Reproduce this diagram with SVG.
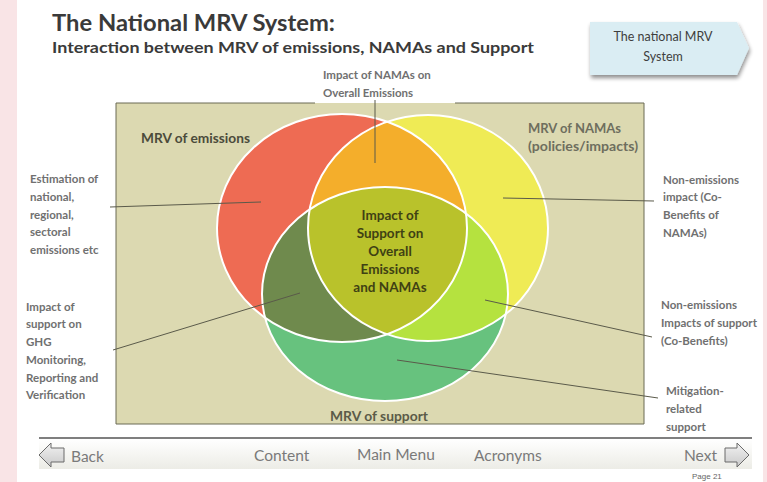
<svg xmlns="http://www.w3.org/2000/svg" width="767" height="482" viewBox="0 0 767 482">
<style>
.lbl{font-family:Lato,"Liberation Sans",sans-serif;font-weight:700;font-size:11.5px;fill:#707070}
.reg{font-family:Lato,"Liberation Sans",sans-serif;font-weight:700;font-size:13px}
.ctr{font-family:Lato,"Liberation Sans",sans-serif;font-weight:700;font-size:13.5px;fill:#3f4114;text-anchor:middle}
.nav{font-family:Lato,"Liberation Sans",sans-serif;font-size:15.5px;fill:#7a7a7a}
.lead{stroke:#5a5a4a;stroke-width:1;fill:none}
.edge{fill:none;stroke:#fff;stroke-width:2}
.navarrow{fill:url(#ag);stroke:#6a6a6a;stroke-width:1}
</style>
<defs>
<clipPath id="cA"><ellipse cx="342" cy="228" rx="125" ry="114"/></clipPath>
<clipPath id="cB"><ellipse cx="428" cy="228" rx="120" ry="113"/></clipPath>
<linearGradient id="fg" x1="0" y1="0" x2="0" y2="1"><stop offset="0" stop-color="#ffffff"/><stop offset="1" stop-color="#ecece6"/></linearGradient>
<linearGradient id="ag" x1="0" y1="0" x2="0" y2="1"><stop offset="0" stop-color="#f2f2f2"/><stop offset="1" stop-color="#c9c9c9"/></linearGradient>
<filter id="sh" x="-10%" y="-20%" width="130%" height="160%"><feGaussianBlur in="SourceAlpha" stdDeviation="2"/><feOffset dx="1" dy="3"/><feComponentTransfer><feFuncA type="linear" slope="0.45"/></feComponentTransfer><feMerge><feMergeNode/><feMergeNode in="SourceGraphic"/></feMerge></filter>
</defs>

<rect x="0" y="0" width="767" height="482" fill="#f9e4e6"/>
<rect x="17" y="0" width="746" height="482" fill="#ffffff"/>

<g id="title">
<text x="52" y="31" font-family="Lato,'Liberation Sans',sans-serif" font-weight="700" font-size="22" fill="#3a3a3a" textLength="283" lengthAdjust="spacingAndGlyphs">The National MRV System:</text>
<text x="52" y="53" font-family="Lato,'Liberation Sans',sans-serif" font-weight="700" font-size="16" fill="#3a3a3a" textLength="482" lengthAdjust="spacingAndGlyphs">Interaction between MRV of emissions, NAMAs and Support</text>
</g>

<g id="nav-tab">
<polygon points="590,22 737,22 749,48 737,75 590,75" fill="#daedf3" filter="url(#sh)"/>
<text x="663" y="41" font-family="Lato,'Liberation Sans',sans-serif" font-size="12.5" fill="#3e3e3e" text-anchor="middle">The national MRV</text>
<text x="663" y="61" font-family="Lato,'Liberation Sans',sans-serif" font-size="12.5" fill="#3e3e3e" text-anchor="middle">System</text>
</g>

<g id="frame">
<rect x="116" y="103" width="528" height="321" fill="#dcd9b1"/>
<path d="M315,103 H116 V424 H644 V103 H455" fill="none" stroke="#6b6b55" stroke-width="1"/>
</g>

<g id="venn">
<ellipse cx="342" cy="228" rx="125" ry="114" fill="#ee6b53"/>
<ellipse cx="428" cy="228" rx="120" ry="113" fill="#efeb55"/>
<ellipse cx="385" cy="294" rx="123" ry="107" fill="#67c27e"/>
<ellipse cx="428" cy="228" rx="120" ry="113" fill="#f4ae2b" clip-path="url(#cA)"/>
<ellipse cx="385" cy="294" rx="123" ry="107" fill="#6f8a4d" clip-path="url(#cA)"/>
<ellipse cx="385" cy="294" rx="123" ry="107" fill="#b5e23f" clip-path="url(#cB)"/>
<g clip-path="url(#cA)"><ellipse cx="385" cy="294" rx="123" ry="107" fill="#b9c22b" clip-path="url(#cB)"/></g>
<ellipse class="edge" cx="342" cy="228" rx="125" ry="114"/>
<ellipse class="edge" cx="428" cy="228" rx="120" ry="113"/>
<ellipse class="edge" cx="385" cy="294" rx="123" ry="107"/>
</g>

<g id="connectors">
<line class="lead" x1="375" y1="100" x2="375" y2="163"/>
<line class="lead" x1="110" y1="207" x2="261" y2="202"/>
<line class="lead" x1="113" y1="350" x2="300" y2="293"/>
<line class="lead" x1="503" y1="198" x2="654" y2="201"/>
<line class="lead" x1="485" y1="300" x2="652" y2="337"/>
<line class="lead" x1="397" y1="360" x2="658" y2="398"/>
</g>

<g id="region-labels">
<text class="reg" x="141" y="143" fill="#4b4b3b" textLength="109" lengthAdjust="spacingAndGlyphs">MRV of emissions</text>
<text class="reg" x="528" y="133" fill="#6e6e5e">MRV of NAMAs</text>
<text class="reg" x="528" y="151" fill="#6e6e5e" textLength="110" lengthAdjust="spacingAndGlyphs">(policies/impacts)</text>
<text class="reg" x="330" y="421" fill="#5b5b48" textLength="98" lengthAdjust="spacingAndGlyphs">MRV of support</text>
</g>

<g id="center-label">
<text class="ctr" x="390" y="220">Impact of</text>
<text class="ctr" x="390" y="238">Support on</text>
<text class="ctr" x="390" y="256">Overall</text>
<text class="ctr" x="390" y="274">Emissions</text>
<text class="ctr" x="390" y="292">and NAMAs</text>
</g>

<g id="label-top">
<text class="lbl" x="323" y="79">Impact of NAMAs on</text>
<text class="lbl" x="323" y="97">Overall Emissions</text>
</g>

<g id="label-estimation">
<text class="lbl" x="30" y="183">Estimation of</text>
<text class="lbl" x="30" y="201">national,</text>
<text class="lbl" x="30" y="219">regional,</text>
<text class="lbl" x="30" y="236">sectoral</text>
<text class="lbl" x="30" y="254">emissions etc</text>
</g>

<g id="label-ghg">
<text class="lbl" x="26" y="311">Impact of</text>
<text class="lbl" x="26" y="328">support on</text>
<text class="lbl" x="26" y="346">GHG</text>
<text class="lbl" x="26" y="364">Monitoring,</text>
<text class="lbl" x="26" y="382">Reporting and</text>
<text class="lbl" x="26" y="399">Verification</text>
</g>

<g id="label-nonem-namas">
<text class="lbl" x="663" y="184">Non-emissions</text>
<text class="lbl" x="663" y="201">impact (Co-</text>
<text class="lbl" x="663" y="219">Benefits of</text>
<text class="lbl" x="663" y="237">NAMAs)</text>
</g>

<g id="label-nonem-support">
<text class="lbl" x="661" y="309">Non-emissions</text>
<text class="lbl" x="661" y="327">Impacts of support</text>
<text class="lbl" x="661" y="345">(Co-Benefits)</text>
</g>

<g id="label-mitigation">
<text class="lbl" x="666" y="395">Mitigation-</text>
<text class="lbl" x="666" y="413">related</text>
<text class="lbl" x="666" y="431">support</text>
</g>

<g id="footer">
<rect x="39" y="439" width="713" height="30" fill="url(#fg)"/>
<line x1="39" y1="438" x2="752" y2="438" stroke="#555" stroke-width="1.5"/>
<polygon class="navarrow" points="39,455 51,443 51,448 64,448 64,462 51,462 51,467"/>
<polygon class="navarrow" points="749,455 737,443 737,448 725,448 725,462 737,462 737,467"/>
<text class="nav" x="71" y="462">Back</text>
<text class="nav" x="254" y="461">Content</text>
<text class="nav" x="357" y="460">Main Menu</text>
<text class="nav" x="474" y="461">Acronyms</text>
<text class="nav" x="684" y="461">Next</text>
<text x="692" y="479" font-family="'Liberation Sans',sans-serif" font-size="8" fill="#666">Page 21</text>
</g>
</svg>
